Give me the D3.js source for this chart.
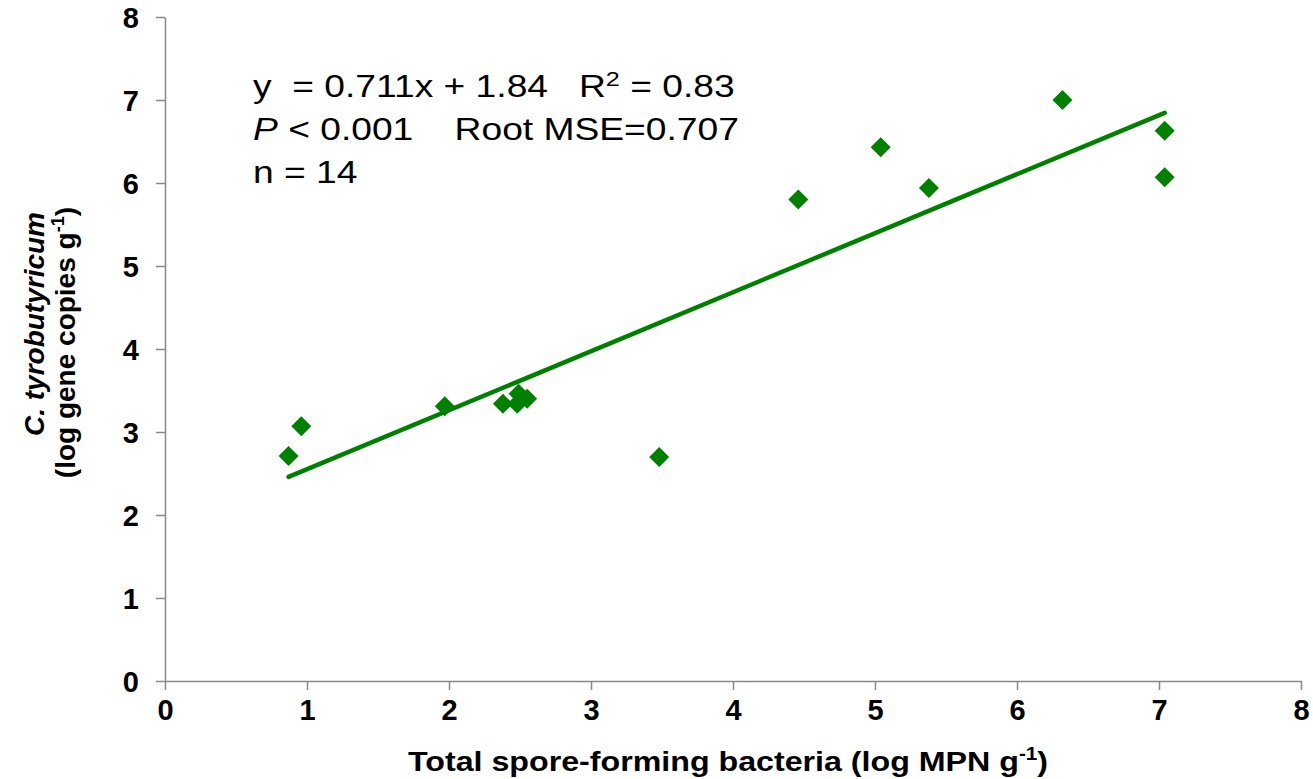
<!DOCTYPE html>
<html lang="en">
<head>
    <meta charset="UTF-8">
    <title>C. tyrobutyricum vs total spore-forming bacteria</title>
    <script src="https://d3js.org/d3.v7.min.js"></script>
    <style>
        body {
            margin: 0;
            background-color: #fff;
            font-family: Arial, "Liberation Sans", sans-serif;
        }
        .tick text {
            font-weight: bold;
            font-size: 29px;
            fill: #000;
        }
        .note {
            font-size: 31px;
            white-space: pre;
        }
    </style>
</head>
<body>
<div id="chart"></div>

<script>
    // data
    const sporeBacteria = [0.87, 0.96, 1.97, 2.38, 2.48, 2.49, 2.55, 3.48, 4.46, 5.04, 5.38, 6.32, 7.04, 7.04];
    const tyroCopies    = [2.71, 3.07, 3.31, 3.34, 3.34, 3.46, 3.40, 2.70, 5.80, 6.43, 5.94, 7.00, 6.63, 6.07];
    const xTicks = [0, 1, 2, 3, 4, 5, 6, 7, 8];
    const yTicks = [0, 1, 2, 3, 4, 5, 6, 7, 8];
    const slope = 0.711;
    const intercept = 1.84;

    const width = 1313;
    const height = 779;
    const margin = {top: 17, right: 12, bottom: 98, left: 165};

    const svg = d3.select("#chart")
        .append("svg")
        .attr("width", width)
        .attr("height", height);

    const x = d3.scaleLinear()
        .domain([0, 8])
        .range([margin.left, width - margin.right]);

    const y = d3.scaleLinear()
        .domain([0, 8])
        .range([height - margin.bottom, margin.top]);

    const axisColor = "#898989";

    const xAxis = svg.append("g")
        .attr("transform", `translate(0,${y(0)})`)
        .call(d3.axisBottom(x).tickValues(xTicks).tickFormat(d3.format("d"))
            .tickSize(9).tickSizeOuter(0).tickPadding(9));

    const yAxis = svg.append("g")
        .attr("transform", `translate(${x(0)},0)`)
        .call(d3.axisLeft(y).tickValues(yTicks).tickFormat(d3.format("d"))
            .tickSize(9).tickSizeOuter(0).tickPadding(17));

    [xAxis, yAxis].forEach(g => {
        g.select(".domain").attr("stroke", axisColor).attr("stroke-width", 1.5);
        g.selectAll(".tick line").attr("stroke", axisColor).attr("stroke-width", 1.5);
        g.selectAll(".tick text").attr("font-family", null);
    });
    yAxis.selectAll(".tick text").attr("dy", "0.36em");

    // regression line across the data range
    const xMin = d3.min(sporeBacteria);
    const xMax = d3.max(sporeBacteria);
    svg.append("line")
        .attr("x1", x(xMin))
        .attr("y1", y(slope * xMin + intercept))
        .attr("x2", x(xMax))
        .attr("y2", y(slope * xMax + intercept))
        .attr("stroke", "#008000")
        .attr("stroke-width", 4.5)
        .attr("stroke-linecap", "round");

    // diamond markers
    const diamond = d3.symbol().type(d3.symbolSquare).size(200);
    svg.append("g")
        .selectAll("path")
        .data(sporeBacteria.map((v, i) => [v, tyroCopies[i]]))
        .enter()
        .append("path")
        .attr("d", diamond)
        .attr("transform", d => `translate(${x(d[0])},${y(d[1])}) rotate(45)`)
        .attr("fill", "#008000");

    // x axis title (picture is a bit wider than the font)
    const xTitle = svg.append("text")
        .attr("transform", "translate(728,771) scale(1.15,1)")
        .attr("text-anchor", "middle")
        .attr("font-weight", "bold")
        .attr("font-size", 28);
    xTitle.append("tspan").text("Total spore-forming bacteria (log MPN g");
    xTitle.append("tspan").text("-1").attr("font-size", 18).attr("dy", -11);
    xTitle.append("tspan").text(")").attr("dy", 11);

    // y axis title (two lines)
    svg.append("text")
        .attr("transform", "translate(44,212) rotate(-90)")
        .attr("text-anchor", "end")
        .attr("font-weight", "bold")
        .attr("font-style", "italic")
        .attr("font-size", 28)
        .text("C. tyrobutyricum");
    const yLine2 = svg.append("text")
        .attr("transform", "translate(75,207) rotate(-90)")
        .attr("text-anchor", "end")
        .attr("font-weight", "bold")
        .attr("font-size", 28);
    yLine2.append("tspan").text("(log gene copies g");
    yLine2.append("tspan").text("-1").attr("font-size", 18).attr("dy", -11);
    yLine2.append("tspan").text(")").attr("dy", 11);

    // regression statistics
    const notes = svg.append("g").attr("transform", "translate(253,0) scale(1.2,1)");
    const note1 = notes.append("text").attr("class", "note").attr("y", 97);
    note1.append("tspan").text(`y  = ${slope}x + ${intercept}   R`);
    note1.append("tspan").text("2").attr("font-size", 21).attr("dy", -11);
    note1.append("tspan").text(" = 0.83").attr("dy", 11);

    const note2 = notes.append("text").attr("class", "note").attr("y", 140);
    note2.append("tspan").text("P").attr("font-style", "italic");
    note2.append("tspan").text(" < 0.001    Root MSE=0.707");

    notes.append("text").attr("class", "note").attr("y", 183)
        .text("n = 14");
</script>
</body>
</html>
